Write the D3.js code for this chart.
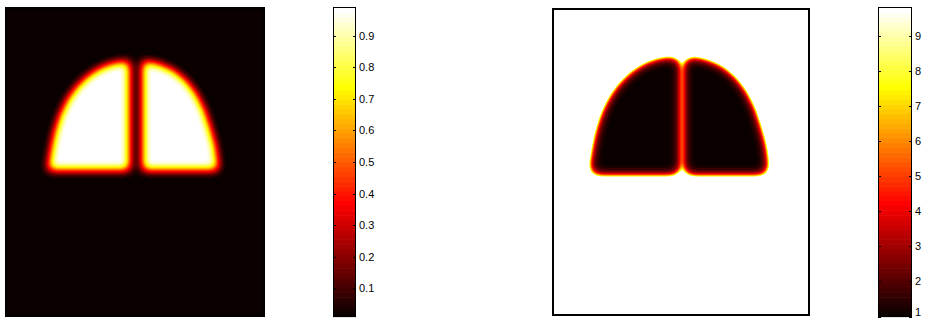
<!DOCTYPE html>
<html><head><meta charset="utf-8">
<script src="https://cdn.jsdelivr.net/npm/d3@7"></script>
<style>html,body{margin:0;padding:0;background:#fff}svg{display:block}</style>
</head><body>
<svg id="chart" width="928" height="320"></svg>
<script>
// ---------------- data ----------------
// image grid size (columns, rows)
const gridCols = 258, gridRows = 308;
// lobe outlines (mask = 1 inside) in grid coordinates
const leftLobe = [[42,162],[44,150],[46,138],[49,124],[54,108],[61,93],[70,80],[81,69],[93,61],[105,56],[116,54],[123.5,54],[123.5,162]];
const rightLobe = [[136.5,162],[136.5,54],[143,54],[155,57],[168,63],[180,73],[190,86],[198,102],[204,120],[209,138],[211,152],[212,162]];
const lobes = [leftLobe, rightLobe];
const smoothing = 4.75;                // smoothing width of the mask, grid units
const range1 = [0.01, 0.99];           // colour limits, panel 1 (mask)
const range2 = [1, 9.82];              // colour limits, panel 2 (1/(0.05+0.95*mask))
const ticks1 = [0.1,0.2,0.3,0.4,0.5,0.6,0.7,0.8,0.9];
const ticks2 = [1,2,3,4,5,6,7,8,9];

// ---------------- helpers ----------------
function hot(t){ // MATLAB hot(64)
  let k = Math.floor(t*64); k = Math.max(0, Math.min(63, k));
  const i = k+1;
  return [Math.min(1,i/24), Math.max(0,Math.min(1,(i-24)/24)), Math.max(0,(i-48)/16)];
}
const clamp01 = v => Math.max(0, Math.min(1, v));
const field1 = m => m;
const field2 = m => { const mm = clamp01((m-range1[0])/(range1[1]-range1[0])); return 1/(0.05+0.95*mm); };

const svg = d3.select("#chart");
const defs = svg.append("defs");

const panels = [
  {id:"p1", x0:6, x1:264, y0:8, y1:316, field:field1, range:range1},
  {id:"p2", x0:553, x1:809, y0:9, y1:315, field:field2, range:range2}
];

panels.forEach(p => {
  const xs = d3.scaleLinear().domain([0,gridCols]).range([p.x0,p.x1]);
  const ys = d3.scaleLinear().domain([0,gridRows]).range([p.y0,p.y1]);
  const cs = d3.scaleLinear().domain(p.range).range([0,1]);
  const pad = 30;
  const f = defs.append("filter").attr("id","f"+p.id)
    .attr("filterUnits","userSpaceOnUse")
    .attr("x",p.x0-pad).attr("y",p.y0-pad)
    .attr("width",p.x1-p.x0+2*pad).attr("height",p.y1-p.y0+2*pad)
    .attr("color-interpolation-filters","sRGB");
  f.append("feGaussianBlur").attr("stdDeviation", smoothing*(p.x1-p.x0)/gridCols);
  const N = 256, R=[],G=[],B=[];
  for (let k=0;k<N;k++){
    const m = (k+0.5)/N;
    const c = hot(cs(p.field(m)));
    R.push(c[0].toFixed(4)); G.push(c[1].toFixed(4)); B.push(c[2].toFixed(4));
  }
  const ct = f.append("feComponentTransfer");
  ct.append("feFuncR").attr("type","discrete").attr("tableValues",R.join(" "));
  ct.append("feFuncG").attr("type","discrete").attr("tableValues",G.join(" "));
  ct.append("feFuncB").attr("type","discrete").attr("tableValues",B.join(" "));

  defs.append("clipPath").attr("id","c"+p.id).append("rect")
    .attr("x",p.x0).attr("y",p.y0).attr("width",p.x1-p.x0).attr("height",p.y1-p.y0);

  const g = svg.append("g").attr("clip-path",`url(#c${p.id})`)
    .append("g").attr("filter",`url(#f${p.id})`);
  g.append("rect").attr("x",p.x0-pad).attr("y",p.y0-pad)
    .attr("width",p.x1-p.x0+2*pad).attr("height",p.y1-p.y0+2*pad).attr("fill","#000");
  const line = d3.line().x(d=>xs(d[0])).y(d=>ys(d[1])).curve(d3.curveLinearClosed);
  g.selectAll("path").data(lobes).join("path").attr("d",line).attr("fill","#fff");

  svg.append("rect").attr("x",p.x0).attr("y",p.y0).attr("width",p.x1-p.x0).attr("height",p.y1-p.y0)
    .attr("fill","none").attr("stroke","#000").attr("stroke-width",2);
});

// ---------------- colorbars ----------------
const bars = [
  {x0:333, x1:356, y0:7.5, y1:316.5, range:range1, ticks:ticks1, fmt:d3.format(".1f")},
  {x0:878, x1:912, y0:7.5, y1:316.5, range:range2, ticks:ticks2, fmt:d3.format("d")}
];
bars.forEach(b => {
  const y = d3.scaleLinear().domain(b.range).range([b.y1,b.y0]);
  const bands = d3.range(64);
  svg.append("g").selectAll("rect").data(bands).join("rect")
    .attr("x",b.x0).attr("width",b.x1-b.x0)
    .attr("y",k=>y(b.range[0]+(k+1)/64*(b.range[1]-b.range[0])))
    .attr("height",k=>y(b.range[0]+k/64*(b.range[1]-b.range[0]))-y(b.range[0]+(k+1)/64*(b.range[1]-b.range[0]))+0.6)
    .attr("fill",k=>{const c=hot((k+0.5)/64);return d3.rgb(c[0]*255,c[1]*255,c[2]*255);});
  svg.append("rect").attr("x",b.x0+0.5).attr("y",b.y0).attr("width",b.x1-b.x0-1).attr("height",b.y1-b.y0)
    .attr("fill","none").attr("stroke","#000").attr("stroke-width",1);
  const tg = svg.append("g").selectAll("g").data(b.ticks).join("g")
    .attr("transform",d=>`translate(0,${Math.round(y(d))+0.5})`);
  tg.append("line").attr("x1",b.x0).attr("x2",b.x0+3).attr("stroke","#000");
  tg.append("line").attr("x1",b.x1-3).attr("x2",b.x1).attr("stroke","#000");
  tg.append("text").attr("x",b.x1+3)
    .attr("y",d=>Math.min(0, 312.5-(Math.round(y(d))+0.5)))
    .attr("dy","0.35em")
    .attr("font-family","'Liberation Sans', Arial, Helvetica, sans-serif").attr("font-size",11)
    .attr("fill","#000").text(d=>b.fmt(d));
});
</script>
</body></html>
